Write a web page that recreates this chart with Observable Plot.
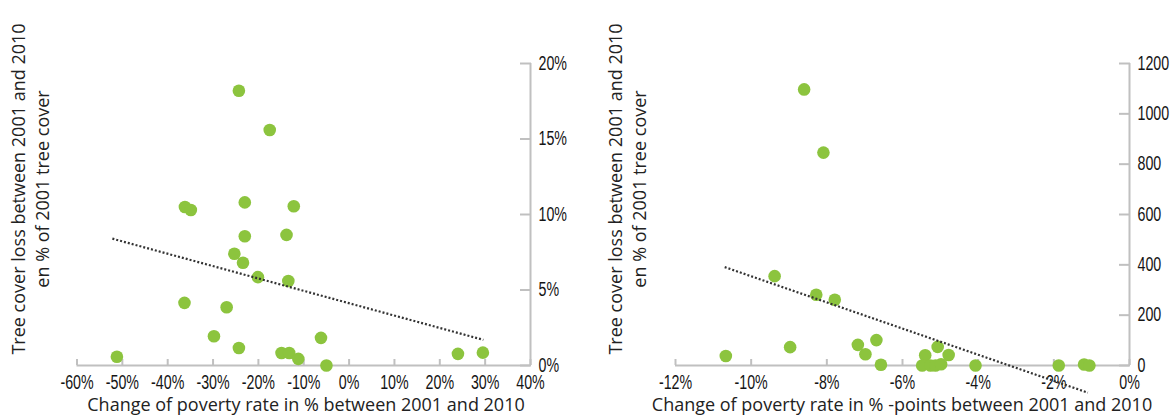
<!DOCTYPE html>
<html><head><meta charset="utf-8">
<script src="https://cdn.jsdelivr.net/npm/d3@7"></script>
<script src="https://cdn.jsdelivr.net/npm/@observablehq/plot@0.6"></script>
<style>
body{margin:0;background:#fff;}
#wrap{position:relative;width:1171px;height:415px;overflow:hidden;font-family:"Open Sans",sans-serif;color:#222;}
.panel{position:absolute;top:0;}
.ytitle{position:absolute;white-space:nowrap;text-align:center;font-size:18px;line-height:24px;transform:translate(-50%,-50%) rotate(-90deg);}
.xtitle{position:absolute;white-space:nowrap;font-size:18px;line-height:20px;transform:translateX(-50%);}
</style></head><body><div id="wrap"></div>
<script>
// Left panel: change of poverty rate (%) vs tree cover loss (% of 2001 tree cover)
const povertyChangeA = [-24.3, -17.5, -36.2, -34.9, -23.0, -12.2, -23.0, -13.8, -25.3, -23.4, -20.1, -13.4, -36.3, -27.0, -29.8, -24.3, -6.2, -51.2, -14.9, -13.2, -11.2, -5.0, 24.0, 29.5];
const treeLossA      = [18.2, 15.6, 10.5, 10.3, 10.8, 10.55, 8.56, 8.65, 7.4, 6.8, 5.85, 5.6, 4.15, 3.86, 1.94, 1.16, 1.83, 0.58, 0.83, 0.83, 0.44, 0.0, 0.77, 0.85];
const trendXA = [-52.2, 29.6];
const trendYA = [8.4, 1.7];
const xTicksA = [-60, -50, -40, -30, -20, -10, 0, 10, 20, 30, 40];
const yTicksA = [0, 5, 10, 15, 20];

// Right panel: change of poverty rate (%-points) vs tree cover loss
const povertyChangeB = [-8.60, -8.09, -9.38, -8.28, -7.79, -8.97, -10.67, -7.18, -6.98, -6.69, -6.57, -5.40, -5.07, -4.78, -5.48, -5.26, -5.13, -4.98, -4.07, -1.87, -1.20, -1.06];
const treeLossB      = [1097, 846, 355, 281, 261, 73, 38, 82, 45, 101, 3, 41, 74, 42, 0, 0, 0, 5, 0, 0, 4, 0];
const trendXB = [-10.7, -1.1];
const trendYB = [391, -108];
const xTicksB = [-12, -10, -8, -6, -4, -2, 0];
const yTicksB = [0, 200, 400, 600, 800, 1000, 1200];

const titleY1 = "Tree cover loss between 2001 and 2010";
const titleY2 = "en % of 2001 tree cover";
const titleXA = "Change of poverty rate in % between 2001 and 2010";
const titleXB = "Change of poverty rate in % -points between 2001 and 2010";

const GREEN = "#8cc43e";
const GRAY = "#c0c0c0";
const tickFont = '"Liberation Sans",Arial,sans-serif';
const NARROW = 0.73;
const TICK_FS = 19.5;

function panel({width, ml, mr, xDomain, yDomain, xTicks, yTicks, xFmt, yFmt, px, py, tx, ty}) {
  return Plot.plot({
    width, height: 415,
    marginLeft: ml, marginRight: mr, marginTop: 63, marginBottom: 50,
    x: {domain: xDomain}, y: {domain: yDomain},
    style: {fontFamily: tickFont, fontSize: TICK_FS + "px", color: "#151515", background: "transparent", overflow: "visible"},
    marks: [
      Plot.ruleY([yDomain[0]], {stroke: GRAY, strokeWidth: 2}),
      Plot.ruleX([xDomain[1]], {stroke: GRAY, strokeWidth: 2}),
      Plot.axisX(xTicks, {anchor: "bottom", tickSize: 6, dy: -6, stroke: GRAY, strokeWidth: 2, tickFormat: () => "", label: null}),
      Plot.axisX(xTicks, {anchor: "bottom", tickSize: 0, tickPadding: 10, fontSize: TICK_FS, tickFormat: xFmt, label: null}),
      Plot.axisY(yTicks, {anchor: "right", tickSize: 11, dx: -11, stroke: GRAY, strokeWidth: 2, tickFormat: () => "", label: null}),
      Plot.axisY(yTicks, {anchor: "right", tickSize: 0, tickPadding: 8, fontSize: TICK_FS, tickFormat: yFmt, label: null}),
      Plot.dot(py, {x: px, y: py, r: 6.3, fill: GREEN, stroke: "none"}),
      Plot.line(ty, {x: tx, y: ty, stroke: "#333", strokeWidth: 2.2, strokeLinecap: "butt", strokeDasharray: "2,2"})
    ]
  });
}

// condense the tick labels horizontally (the reference uses a condensed face)
function condense(svg) {
  svg.querySelectorAll('g[aria-label$="tick label"] text').forEach(t => {
    const tr = t.getAttribute("transform");
    if (tr) t.setAttribute("transform", tr + ` scale(${NARROW},1)`);
    else {
      const x = +t.getAttribute("x") || 0, y = +t.getAttribute("y") || 0;
      t.removeAttribute("x"); t.removeAttribute("y");
      t.setAttribute("transform", `translate(${x},${y}) scale(${NARROW},1)`);
    }
  });
  return svg;
}

const wrap = document.getElementById("wrap");

const left = condense(panel({width: 590, ml: 76.5, mr: 60, xDomain: [-60, 40], yDomain: [0, 20],
  xTicks: xTicksA, yTicks: yTicksA, xFmt: d => d + "%", yFmt: d => d + "%",
  px: povertyChangeA, py: treeLossA, tx: trendXA, ty: trendYA}));
const right = condense(panel({width: 581, ml: 85, mr: 42, xDomain: [-12, 0], yDomain: [0, 1200],
  xTicks: xTicksB, yTicks: yTicksB, xFmt: d => d + "%", yFmt: d => String(d),
  px: povertyChangeB, py: treeLossB, tx: trendXB, ty: trendYB}));

function place(el, x) { const d = document.createElement("div"); d.className = "panel"; d.style.left = x + "px"; d.appendChild(el); wrap.appendChild(d); }
place(left, 0);
place(right, 590);

function ytitle(cx, cy) {
  const d = document.createElement("div"); d.className = "ytitle";
  d.style.left = cx + "px"; d.style.top = cy + "px";
  d.innerHTML = titleY1 + "<br>" + titleY2;
  wrap.appendChild(d);
}
function xtitle(cx, top, txt) {
  const d = document.createElement("div"); d.className = "xtitle";
  d.style.left = cx + "px"; d.style.top = top + "px"; d.textContent = txt;
  wrap.appendChild(d);
}
ytitle(30, 189);
ytitle(627, 189);
xtitle(306, 394, titleXA);
xtitle(902, 394, titleXB);
</script></body></html>
